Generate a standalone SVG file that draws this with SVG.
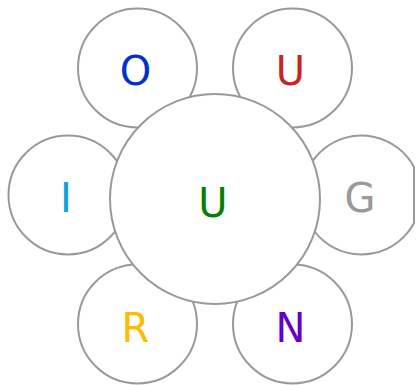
<svg xmlns="http://www.w3.org/2000/svg" width="416" height="385" viewBox="0 0 416 385">
<style>
.c{fill:#fff;stroke:#999;stroke-width:2}
.t{font-family:"DejaVu Sans",sans-serif;font-size:40px;text-anchor:middle}
</style>
<rect width="416" height="385" fill="#fff"/>
<g id="connectors"/>
<g id="node-O"><circle class="c" cx="137.5" cy="68" r="59.5"/><text class="t" x="135.5" y="85" fill="#0033cc">O</text></g>
<g id="node-U2"><circle class="c" cx="292.5" cy="68" r="59.5"/><text class="t" x="290.5" y="85" fill="#cc2222">U</text></g>
<g id="node-I"><circle class="c" cx="68" cy="195" r="59.5"/><text class="t" x="66" y="212" fill="#0fa0e0">I</text></g>
<g id="node-G"><path class="c" d="M414,167 A59.5,59.5 0 1 0 414,223 Z"/><text class="t" x="360" y="212" fill="#999999">G</text></g>
<g id="node-R"><circle class="c" cx="137.5" cy="324" r="59.5"/><text class="t" x="135.5" y="341.5" fill="#ffbb00">R</text></g>
<g id="node-N"><circle class="c" cx="292.5" cy="324" r="59.5"/><text class="t" x="290.5" y="341.5" fill="#6600cc">N</text></g>
<g id="node-center"><circle class="c" cx="215" cy="199" r="105"/><text class="t" x="213" y="216.5" fill="#008000">U</text></g>
</svg>
